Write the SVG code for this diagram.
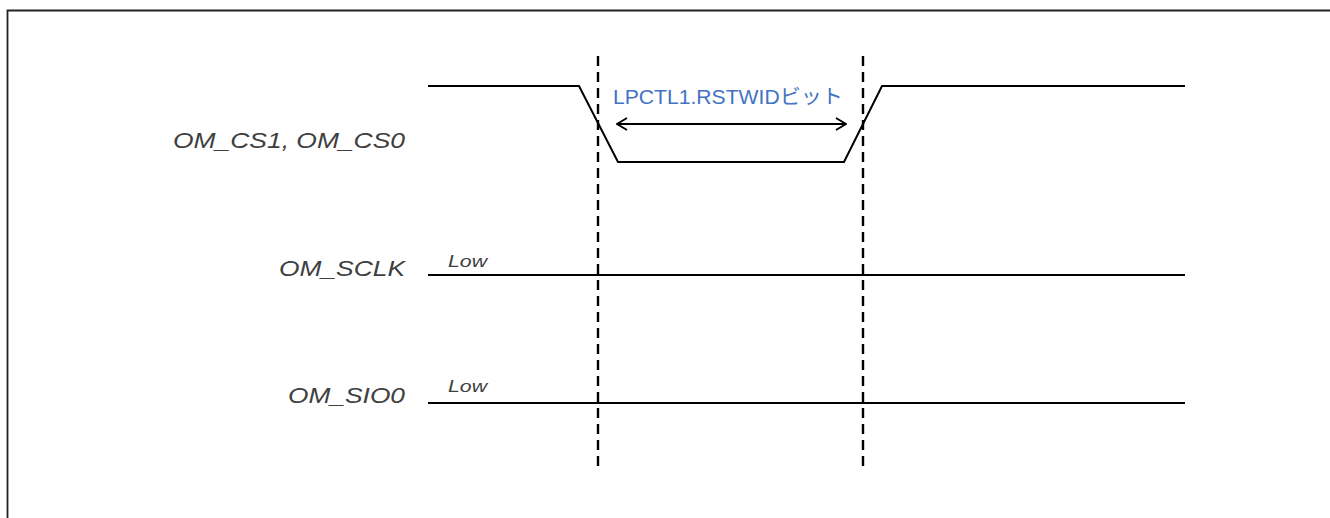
<svg xmlns="http://www.w3.org/2000/svg" width="1330" height="518" viewBox="0 0 1330 518">
<style>
.sig{fill:none;stroke:#000;stroke-width:2;stroke-linejoin:miter}
.dash{fill:none;stroke:#000;stroke-width:2.4;stroke-dasharray:10 6}
.lbl{font-family:"Liberation Sans",Arial,sans-serif;font-style:italic;fill:#404040;font-size:22px}
.low{font-family:"Liberation Sans",Arial,sans-serif;font-style:italic;fill:#404040;font-size:17px}
.note{font-family:"Liberation Sans","Noto Sans CJK JP",sans-serif;fill:#4472C4;font-size:20px}
</style>
<defs>
<marker id="open" viewBox="0 0 12 14" refX="11" refY="7" markerWidth="12" markerHeight="14" markerUnits="userSpaceOnUse" orient="auto-start-reverse">
<path d="M1,1 L11,7 L1,13" fill="none" stroke="#000" stroke-width="1.8"/>
</marker>
</defs>
<rect width="1330" height="518" fill="#fff"/>
<g id="frame">
<path d="M1330,10.5 H7.5 V518" fill="none" stroke="#222" stroke-width="1.8"/>
</g>
<g id="cs">
<text class="lbl" x="405" y="148" text-anchor="end" textLength="232" lengthAdjust="spacingAndGlyphs">OM_CS1, OM_CS0</text>
<path class="sig" d="M428,86 H579 L618,162 H844 L882,86 H1185"/>
</g>
<g id="sclk">
<text class="lbl" x="405" y="276" text-anchor="end" textLength="126" lengthAdjust="spacingAndGlyphs">OM_SCLK</text>
<text class="low" x="448" y="267" textLength="39" lengthAdjust="spacingAndGlyphs">Low</text>
<path class="sig" d="M428,275 H1185"/>
</g>
<g id="sio0">
<text class="lbl" x="405" y="403" text-anchor="end" textLength="117" lengthAdjust="spacingAndGlyphs">OM_SIO0</text>
<text class="low" x="448" y="392" textLength="39" lengthAdjust="spacingAndGlyphs">Low</text>
<path class="sig" d="M428,403 H1185"/>
</g>
<g id="connectors">
<path class="dash" d="M598,56 V466"/>
<path class="dash" d="M863,56 V466"/>
<path d="M617,124 H846" fill="none" stroke="#000" stroke-width="1.8" marker-start="url(#open)" marker-end="url(#open)"/>
</g>
<g id="rstwid">
<text class="note" x="613" y="104" textLength="230" lengthAdjust="spacingAndGlyphs">LPCTL1.RSTWIDビット</text>
</g>
</svg>
